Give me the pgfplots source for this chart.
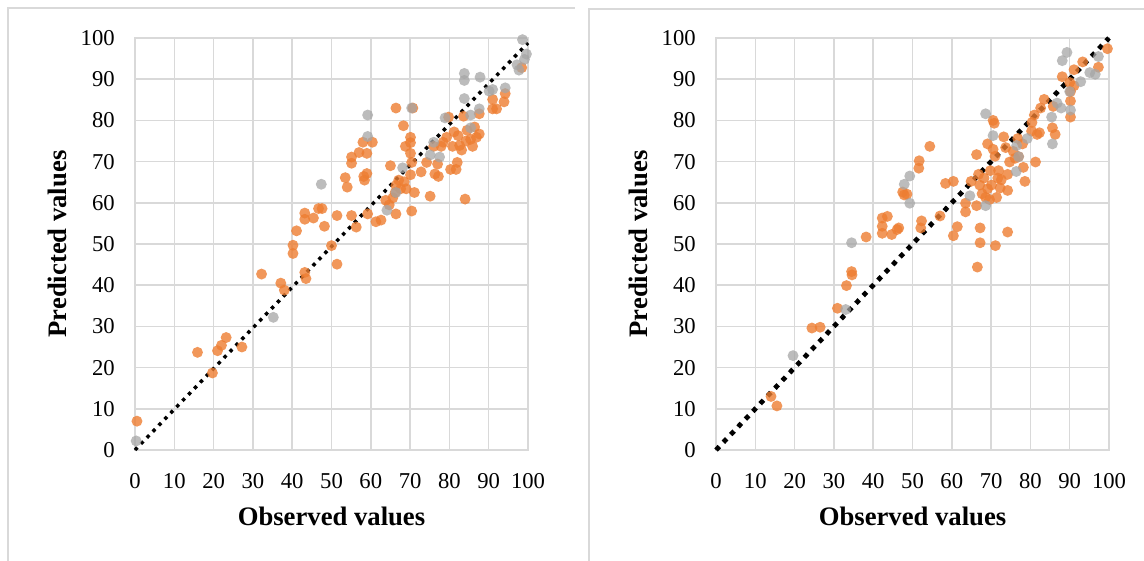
\documentclass[border=0pt]{standalone}
\usepackage{fontspec}
\setmainfont{Liberation Serif}
\usepackage{pgfplots}
\pgfplotsset{compat=1.18}
\definecolor{orng}{HTML}{ED7D31}
\definecolor{gry}{HTML}{A5A5A5}
\definecolor{gridc}{HTML}{D9D9D9}
\definecolor{framec}{HTML}{D9D9D9}
\pgfplotsset{myax/.style={scale only axis, width=294.75pt, height=309pt,
  xmin=0,xmax=100,ymin=0,ymax=100, xtick={0,10,...,100}, ytick={0,10,...,100},
  grid=major, major grid style={gridc, line width=1.1pt},
  axis line style={gridc, line width=1.1pt}, major tick length=0pt, clip=false,
  /pgf/number format/assume math mode=true,
  tick label style={font=\fontsize{17}{20}\selectfont, inner sep=0pt},
  xticklabel style={anchor=north, yshift=-17pt},
  yticklabel style={anchor=east, xshift=-15pt},
  xlabel={Observed values}, ylabel={Predicted values},
  label style={font=\fontsize{20}{24}\selectfont\bfseries},
  xlabel style={at={(axis description cs:0.5,-0.1618)}, anchor=center},
  ylabel style={at={(axis description cs:-0.1985,0.5)}, anchor=center},
},
orngm/.style={only marks, mark=*, mark size=4.1pt, color=orng, mark options={draw opacity=0, fill=orng, fill opacity=0.8}},
grym/.style={only marks, mark=*, mark size=4.1pt, color=gry, mark options={draw opacity=0, fill=gry, fill opacity=0.75}}}
\begin{document}
\begin{tikzpicture}
\useasboundingbox (0,0) rectangle (858pt,420pt);
\draw[framec, line width=1.2pt] (6pt,-2pt) -- (6pt,414pt) -- (431.25pt,414pt);
\draw[framec, line width=1.2pt] (441.75pt,-2pt) -- (441.75pt,413.25pt) -- (860pt,413.25pt);
\begin{axis}[myax, at={(101.25pt,82.5pt)}, anchor=south west]
\addplot[orngm] coordinates {
(0.5,7)(15.9,23.7)(19.7,18.7)(21,24.1)(22,25.4)(23.2,27.3)(27.2,25)(32.2,42.7)(37.1,40.5)(38,38.8)
(40.2,49.7)(40.2,47.7)(41.1,53.2)(43.2,57.5)(43.2,56)(43.2,43.1)(43.5,41.6)(45.4,56.3)(46.7,58.6)(47.6,58.6)
(48.2,54.3)(50,49.6)(51.4,56.9)(51.4,45.1)(53.5,66.1)(54,63.8)(55.1,71.1)(55.1,69.6)(55.1,56.9)(56.3,54.1)
(57,72.2)(58,74.7)(58.2,66.4)(58.4,65.5)(59,72)(59,67.1)(59.2,57.3)(60.4,74.7)(61.3,55.4)(62.6,55.8)
(65,69)(63.8,60.6)(64.7,59.5)(65.6,61.2)(66.4,83)(66.4,57.3)(66.4,64.2)(66.2,62.5)(67.1,65.5)(67.6,63.4)
(68.3,78.7)(68.5,65.1)(68.8,73.7)(69,63.4)(70.1,75.9)(70.1,74.6)(70.1,72)(70.4,69.8)(70.1,66.8)(70.4,58)
(71.1,62.5)(70.7,83)(72.8,67.5)(74.2,69.8)(75.1,61.6)(76,73.7)(76.3,67)(77,69.4)(77.2,66.4)(77.9,73.7)
(78.4,74.7)(79.3,75.9)(79.8,80.8)(80.3,68.1)(80.8,73.7)(81.2,77.2)(81.7,68.1)(82,69.8)(82.2,76.3)(82.6,73.9)
(83.1,72.8)(83.6,81)(84,60.9)(84.2,75)(84.5,77.6)(85.4,75.4)(85.9,73.7)(86.4,78.4)(86.9,75.9)(87.6,81.6)
(87.6,76.7)(91,82.8)(92,82.8)(91,85.1)(93.9,84.5)(94.2,86.5)(98.4,92.8)
};
\addplot[grym] coordinates {
(0.3,2.2)(35.2,32.2)(47.4,64.5)(59.2,81.3)(59.2,76.1)(64.1,58.2)(66.4,62.5)(68.1,68.5)(70.4,83)(75.1,71.6)
(76,74.7)(77.5,71.1)(78.9,80.6)(83.8,91.4)(83.8,89.7)(83.8,85.3)(85.4,81.3)(85.4,78.2)(87.8,90.5)(87.6,82.8)
(90.1,87.1)(91,87.5)(94.2,87.9)(97.2,93.5)(97.7,92.2)(98.6,99.6)(99.1,94.8)(99.6,96.1)
};
\addplot[black, line width=2.6pt, dash pattern=on 2.6pt off 3.8pt] coordinates {(0,0)(100,98.8)};
\end{axis}
\begin{axis}[myax, at={(537pt,82.5pt)}, anchor=south west]
\addplot[orngm] coordinates {
(14,13)(15.5,10.7)(24.4,29.6)(26.5,29.8)(30.9,34.4)(33.2,39.9)(34.5,43.3)(34.6,42.5)(38.2,51.7)(42.3,56.3)
(42.3,54.3)(42.3,52.6)(43.6,56.7)(44.7,52.3)(46.1,53.5)(46.5,53.9)(47.5,62.6)(47.9,61.9)(48.6,62.1)(51.7,70.2)
(51.6,68.4)(52.1,53.9)(52.3,55.6)(54.4,73.7)(57,56.8)(58.4,64.7)(60.4,65.2)(60.4,52)(61.4,54.2)(63.5,59.9)
(63.5,57.8)(64.9,65.2)(66.3,71.7)(66.3,59.3)(66.5,44.4)(66.8,66.9)(67.1,64.3)(67.2,53.9)(67.2,50.3)(67.7,62.2)
(68.2,66)(68.6,61.3)(69.1,74.3)(69.1,63.4)(69.6,60.8)(69.8,67.8)(70.1,64.3)(70.5,80)(70.8,79.3)(70.5,73)
(71,71.3)(71.1,49.6)(71.4,61.3)(71.7,66)(71.9,67.8)(72.3,63.6)(72.6,65.6)(73.2,76)(73.7,73.4)(74.2,66.9)
(74.2,63)(74.2,52.9)(74.7,69.9)(75.6,72.5)(76.1,70.8)(76.8,75.6)(77,71.2)(78,74.3)(78.2,68.6)(78.6,65.2)
(80.3,77.4)(80.4,79.5)(81,81.3)(81.3,69.9)(81.7,76.6)(82.3,77)(82.6,83)(83.5,85.1)(85.6,78.2)(85.8,83.4)
(86.3,76.6)(88.1,90.6)(90,89.2)(90.2,87)(90.2,84.7)(90.2,80.8)(91.1,92.3)(91.1,88.4)(93.3,94.2)(97.3,92.9)
(99.6,97.4)
};
\addplot[grym] coordinates {
(19.6,22.9)(33,34.1)(34.5,50.3)(47.9,64.5)(49.3,66.5)(49.3,59.9)(64.6,61.7)(68.6,81.6)(68.6,59.3)(70.5,76.3)
(76.4,67.6)(76.5,73.9)(77,71.2)(79.2,75.6)(85.4,80.8)(85.6,74.3)(86.8,84.2)(87.8,83)(88.1,94.5)(89.3,96.5)
(90,87)(90.2,82.5)(92.8,89.4)(95.1,91.6)(96.5,91.2)(97.3,95.5)
};
\addplot[black, line width=3.6pt, dash pattern=on 3.6pt off 4.4pt] coordinates {(0,0)(100,100)};
\end{axis}
\end{tikzpicture}
\end{document}
